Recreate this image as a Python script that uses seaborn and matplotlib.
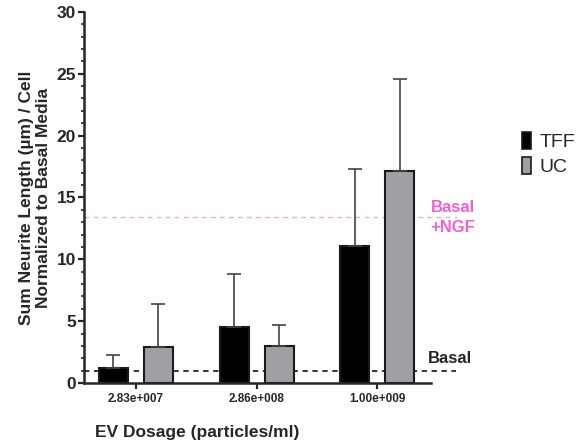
import numpy as np
import pandas as pd
import matplotlib
matplotlib.use('Agg')
import matplotlib.pyplot as plt
import seaborn as sns
from matplotlib.patches import Patch
from matplotlib.ticker import MultipleLocator

dosages = ['2.83e+007', '2.86e+008', '1.00e+009']
methods = ['TFF', 'UC']
tff_mean = [1.2, 4.55, 11.1]
tff_err = [1.1, 4.3, 6.2]
uc_mean = [2.9, 3.0, 17.15]
uc_err = [3.45, 1.7, 7.45]
basal = 0.95
basal_ngf = 13.4

df = pd.DataFrame({
    'dosage': dosages * 2,
    'method': ['TFF'] * 3 + ['UC'] * 3,
    'value': tff_mean + uc_mean,
    'err': tff_err + uc_err,
})

sns.set_style('ticks')
plt.rcParams['font.family'] = ['Liberation Sans', 'DejaVu Sans']

fig = plt.figure(figsize=(5.82, 4.41), dpi=100)
ax = fig.add_axes([0.144, 0.1315, 0.597, 0.8415])

colors = {'TFF': '#000000', 'UC': '#a0a0a4'}
sns.barplot(data=df, x='dosage', y='value', hue='method', palette=colors,
            width=0.744, gap=0.356, errorbar=None, edgecolor='#1a1a1a',
            linewidth=1.5, legend=False, ax=ax)

# upper-only error bars
for bar, (_, row) in zip(ax.patches, df.iterrows()):
    cx = bar.get_x() + bar.get_width() / 2
    ax.errorbar(cx, row['value'], yerr=[[0], [row['err']]], fmt='none',
                ecolor='#444444', elinewidth=1.2, capsize=5.2, capthick=1.2, zorder=1)

ax.set_xlim(-0.43, 2.446)
ax.set_ylim(0, 30)
ax.yaxis.set_major_locator(MultipleLocator(5))
ax.yaxis.set_minor_locator(MultipleLocator(1))

ax.axhline(basal, xmin=0, xmax=1.07, color='black', ls=(0, (3.5, 3)), lw=1.1,
           clip_on=False, zorder=0)
ax.axhline(basal_ngf, xmin=0, xmax=1.075, color='#f5a3e3', ls=(0, (3.5, 3)), lw=1.0,
           clip_on=False, zorder=0)
ax.text(2.42, basal + 0.4, 'Basal', fontsize=12, fontweight='bold', va='bottom',
        ha='left', clip_on=False)
ax.text(2.44, basal_ngf, 'Basal\n+NGF', fontsize=12, fontweight='bold', va='center',
        ha='left', color='#f060d0', clip_on=False, linespacing=1.45)

sns.despine(ax=ax)
for s in ['left', 'bottom']:
    ax.spines[s].set_linewidth(1.8)
ax.tick_params(axis='y', which='major', length=4, width=1.6, labelsize=12.5, pad=1.5)
ax.tick_params(axis='y', which='minor', length=2.5, width=1.2)
ax.tick_params(axis='x', length=4, width=1.6, labelsize=8.5)
for lab in ax.get_xticklabels() + ax.get_yticklabels():
    lab.set_fontweight('bold')

ax.set_ylabel('Sum Neurite Length (µm) / Cell\nNormalized to Basal Media',
              fontsize=12.5, fontweight='bold', labelpad=4)
ax.set_xlabel('EV Dosage (particles/ml)', fontsize=12.5, fontweight='bold')
ax.xaxis.set_label_coords(0.326, -0.112)

handles = [Patch(facecolor=colors[m], edgecolor='#1a1a1a', linewidth=1.2) for m in methods]
fig.legend(handles, methods, loc='center left', bbox_to_anchor=(0.867, 0.65),
           frameon=False, fontsize=14, handlelength=0.45, handleheight=0.95,
           handletextpad=0.45, labelspacing=0.3)

fig.savefig('out.png', dpi=100)
